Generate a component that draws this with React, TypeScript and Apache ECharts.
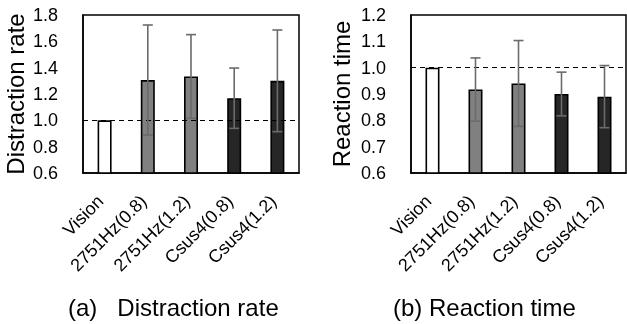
import React, { useEffect, useRef } from "react";
import * as echarts from "echarts";

const categories = ["Vision", "2751Hz(0.8)", "2751Hz(1.2)", "Csus4(0.8)", "Csus4(1.2)"];
const barColors = ["#ffffff", "#808080", "#808080", "#262626", "#262626"];
const distractionMean = [1.0, 1.306, 1.333, 1.168, 1.3];
const distractionErr = [0, 0.418, 0.318, 0.229, 0.386];
const reactionMean = [1.0, 0.917, 0.94, 0.9, 0.89];
const reactionErr = [0, 0.12, 0.163, 0.083, 0.118];
const distractionTicks = { min: 0.6, max: 1.8, interval: 0.2 };
const reactionTicks = { min: 0.6, max: 1.2, interval: 0.1 };

const FONT = "'Liberation Sans', Arial, sans-serif";

function errData(mean: number[], err: number[]) {
  return mean.map((m, i) => [i, m - err[i], m + err[i], err[i]]);
}

function barData(mean: number[]) {
  return mean.map((v, i) => ({
    value: v,
    itemStyle: { color: barColors[i], borderColor: "#000", borderWidth: 1.6 },
  }));
}

const renderErr = (params: any, api: any) => {
  const e = api.value(3);
  if (!e) return null;
  const x = api.value(0);
  const lo = api.coord([x, api.value(1)]);
  const hi = api.coord([x, api.value(2)]);
  const hw = 5;
  const style = { stroke: "#6b6b6b", lineWidth: 1.6 };
  return {
    type: "group",
    children: [
      { type: "line", shape: { x1: lo[0], y1: lo[1], x2: hi[0], y2: hi[1] }, style },
      { type: "line", shape: { x1: hi[0] - hw, y1: hi[1], x2: hi[0] + hw, y2: hi[1] }, style },
      { type: "line", shape: { x1: lo[0] - hw, y1: lo[1], x2: lo[0] + hw, y2: lo[1] }, style },
    ],
  };
};

export default function App() {
  const ref = useRef<HTMLDivElement>(null);
  useEffect(() => {
    if (!ref.current) return;
    const chart = echarts.init(ref.current, null, { renderer: "svg" });
    const axisLine = { show: true, lineStyle: { color: "#000", width: 1.5 } };
    const xAxisBase = {
      type: "category",
      data: categories,
      axisLine,
      axisTick: { show: false },
      axisLabel: {
        rotate: 45,
        fontSize: 18,
        color: "#000",
        fontFamily: FONT,
        margin: 21,
        padding: [0, 6, 0, 0],
        interval: 0,
      },
    };
    const yAxisBase = {
      type: "value",
      axisLine,
      axisTick: { show: false },
      splitLine: { show: false },
      nameLocation: "middle",
      nameRotate: 90,
      nameTextStyle: { fontSize: 24, color: "#000", fontFamily: FONT },
      axisLabel: {
        fontSize: 18,
        color: "#000",
        fontFamily: FONT,
        margin: 25,
        formatter: (v: number) => v.toFixed(1),
      },
    };
    const markLine = {
      silent: true,
      symbol: "none",
      label: { show: false },
      lineStyle: { color: "#000", type: [5, 4], width: 1.2 },
      data: [{ yAxis: 1.0 }],
    };
    chart.setOption({
      animation: false,
      grid: [
        { left: 83, right: 328, top: 15, bottom: 151, show: true, borderColor: "#000", borderWidth: 1.5 },
        { left: 411, right: 1, top: 15, bottom: 151, show: true, borderColor: "#000", borderWidth: 1.5 },
      ],
      xAxis: [
        { ...xAxisBase, gridIndex: 0 },
        { ...xAxisBase, gridIndex: 1 },
      ],
      yAxis: [
        { ...yAxisBase, gridIndex: 0, ...distractionTicks, name: "Distraction rate", nameGap: 56 },
        { ...yAxisBase, gridIndex: 1, ...reactionTicks, name: "Reaction time", nameGap: 58 },
      ],
      graphic: [
        {
          type: "text",
          left: 68,
          top: 295,
          style: { text: "(a)   Distraction rate", fontSize: 24, fill: "#000", fontFamily: FONT },
        },
        {
          type: "text",
          left: 393,
          top: 295,
          style: { text: "(b) Reaction time", fontSize: 24, fill: "#000", fontFamily: FONT },
        },
      ],
      series: [
        {
          type: "bar",
          xAxisIndex: 0,
          yAxisIndex: 0,
          barWidth: 14,
          data: barData(distractionMean),
          markLine,
        },
        {
          type: "custom",
          xAxisIndex: 0,
          yAxisIndex: 0,
          renderItem: renderErr,
          data: errData(distractionMean, distractionErr),
          z: 5,
        },
        {
          type: "bar",
          xAxisIndex: 1,
          yAxisIndex: 1,
          barWidth: 14,
          data: barData(reactionMean),
          markLine,
        },
        {
          type: "custom",
          xAxisIndex: 1,
          yAxisIndex: 1,
          renderItem: renderErr,
          data: errData(reactionMean, reactionErr),
          z: 5,
        },
      ],
    });
    return () => chart.dispose();
  }, []);
  return <div ref={ref} style={{ position: "fixed", left: 0, top: 0, width: 627, height: 324 }} />;
}
